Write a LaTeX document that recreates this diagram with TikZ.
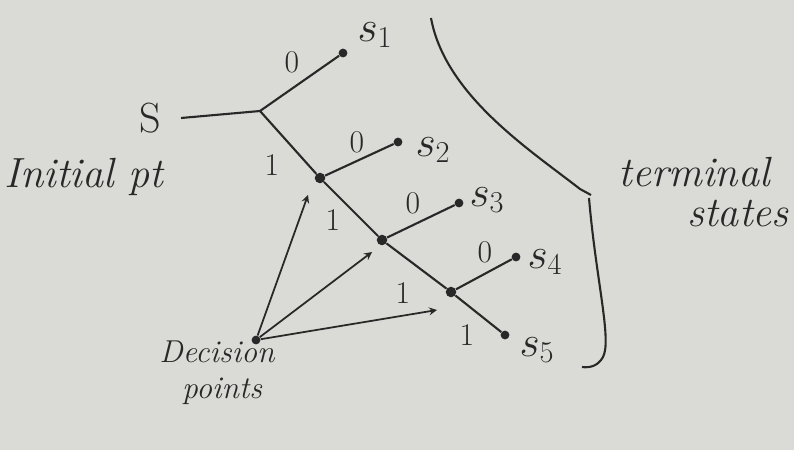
\documentclass[tikz,border=0pt]{standalone}
\usepackage{amsmath}
\definecolor{paper}{RGB}{218,218,214}
\definecolor{ink}{RGB}{40,40,40}

\begin{document}
\begin{tikzpicture}[x=0.02cm, y=-0.02cm,
    dot/.style={circle, fill=ink, inner sep=0pt, minimum size=5pt},
    jn/.style={circle, fill=ink, inner sep=0pt, minimum size=6pt},
    lbl/.style={font=\fontsize{18}{20}\selectfont, text=ink},
    st/.style={font=\fontsize{24}{26}\selectfont, text=ink},
    note/.style={font=\fontsize{#1}{#1}\selectfont\itshape, text=ink, inner sep=0pt},
    note/.default=21,
    line/.style={draw=ink, line width=1.2pt},
    arr/.style={->, draw=ink, line width=1pt, >=stealth}
  ]
  \fill[paper] (0,0) rectangle (794,450);

  % tree
  \node[st] (S) at (150,118) {S};
  \coordinate (r) at (260,111);
  \node[jn] (j1) at (320,178) {};
  \node[jn] (j2) at (382,240) {};
  \node[jn] (j3) at (451,292) {};
  \node[dot] (d1) at (343,53) {};
  \node[dot] (d2) at (398,142) {};
  \node[dot] (d3) at (459,203) {};
  \node[dot] (d4) at (516,257) {};
  \node[dot] (d5) at (505,335) {};

  \node[st] (s1) at (375,35)  {$s_1$};
  \node[st] (s2) at (433,150) {$s_2$};
  \node[st] (s3) at (487,200) {$s_3$};
  \node[st] (s4) at (545,262) {$s_4$};
  \node[st] (s5) at (537,350) {$s_5$};

  \draw[line] ([xshift=8pt]S.east) -- (r);
  \draw[line] (r) -- (d1);
  \draw[line] (r) -- (j1) -- (j2) -- (j3) -- (d5);
  \draw[line] (j1) -- (d2);
  \draw[line] (j2) -- (d3);
  \draw[line] (j3) -- (d4);

  \node[lbl] at (292,62)  {0};
  \node[lbl] at (357,142) {0};
  \node[lbl] at (413,203) {0};
  \node[lbl] at (485,252) {0};
  \node[lbl] at (272,165) {1};
  \node[lbl] at (333,220) {1};
  \node[lbl] at (403,293) {1};
  \node[lbl] at (467,335) {1};

  % decision points
  \node[dot] (dp) at (256,340) {};
  \node[note=18] (dec1) at (217,352) {Decision};
  \node[note=18] (dec2) at (222,391) {points};
  \coordinate (a1) at (308,195);
  \coordinate (a2) at (372,252);
  \coordinate (a3) at (437,310);
  \draw[arr] (dp) -- (a1);
  \draw[arr] (dp) -- (a2);
  \draw[arr] (dp) -- (a3);

  \node[note=24] (init) at (84,177) {Initial pt};

  % brace
  \coordinate (b0) at (431,18);
  \coordinate (bt) at (591,195);
  \coordinate (b1) at (582,367);
  \draw[line] (b0) .. controls (445,95) and (530,150) .. (580,189) -- (bt);
  \draw[line] (589,198) .. controls (596,280) and (612,340) .. (603,357)
    .. controls (598,366) and (590,368) .. (b1);
  \node[note=24] (term1) at (694,172) {terminal};
  \node[note=24] (term2) at (738,214) {states};
\end{tikzpicture}
\end{document}
